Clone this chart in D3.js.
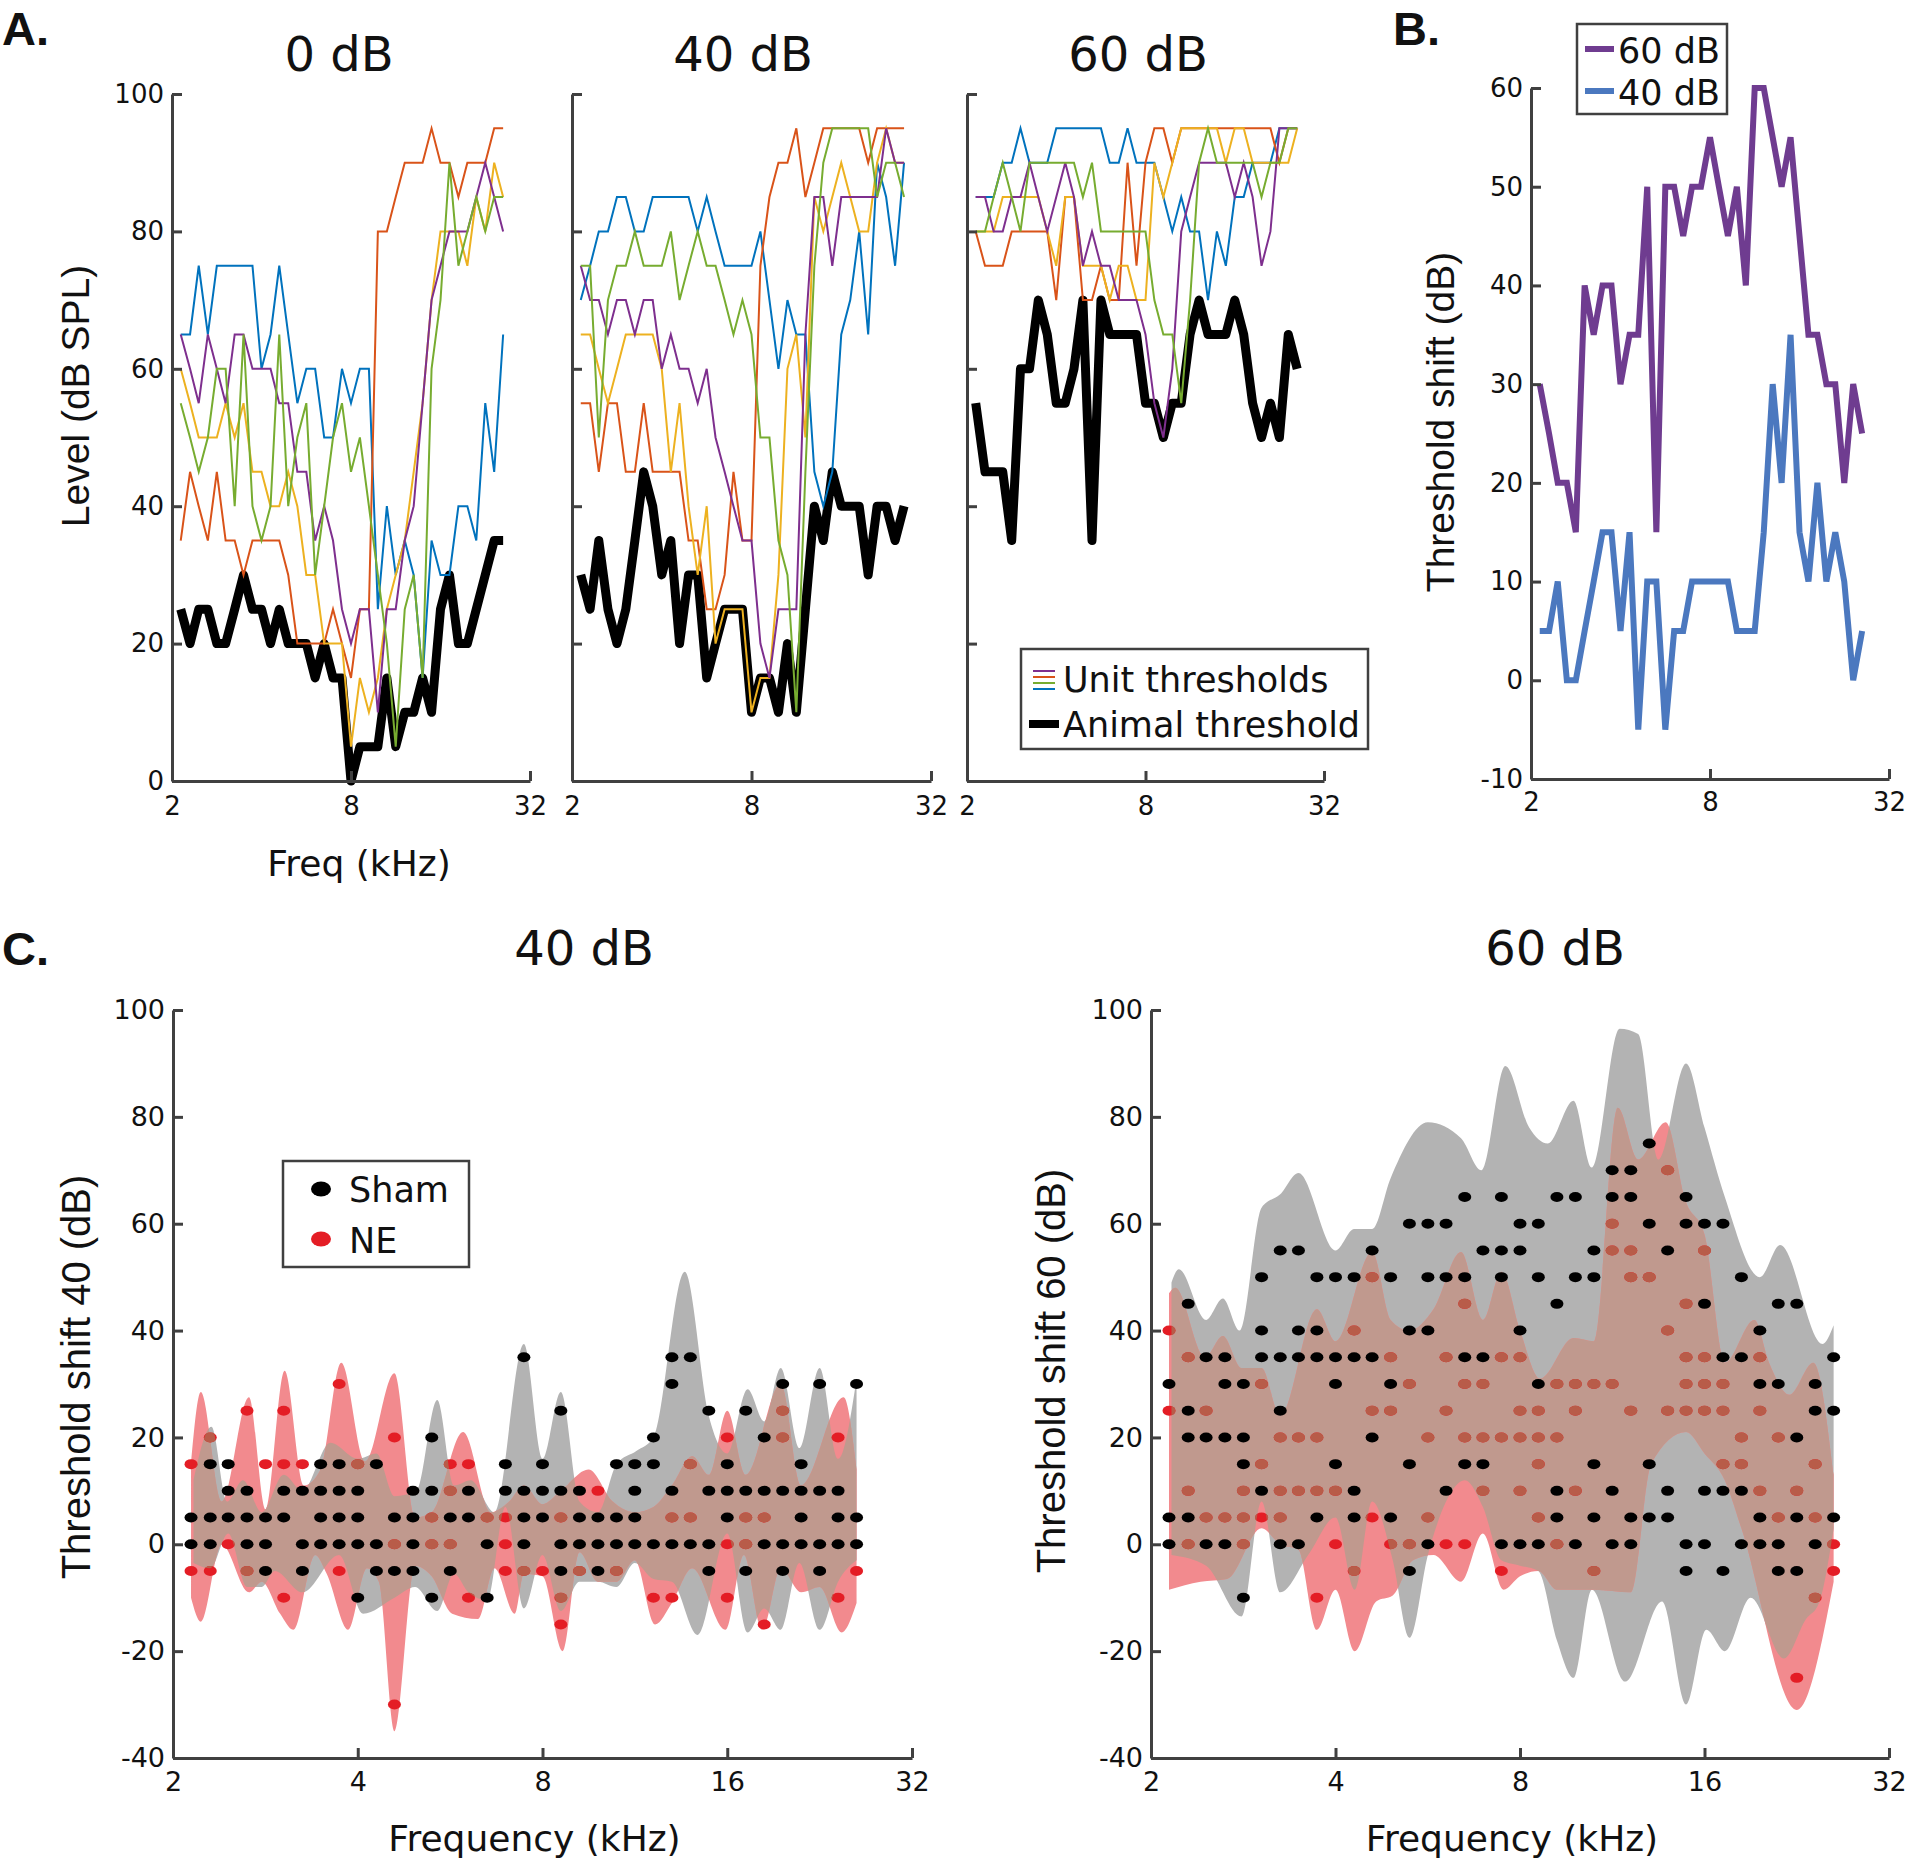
<!DOCTYPE html>
<html><head><meta charset="utf-8">
<script src="https://cdn.jsdelivr.net/npm/d3@7"></script>
<style>body{margin:0;background:#fff}</style>
</head><body>
<svg id="c" width="1920" height="1866" xmlns="http://www.w3.org/2000/svg"></svg>
<script>
// ---------- DATA ----------
const freqs = [2.14,2.30,2.46,2.64,2.83,3.03,3.25,3.48,3.73,4.00,4.29,4.59,4.92,5.28,5.66,6.06,6.50,6.96,7.46,8.00,8.57,9.19,9.85,10.56,11.31,12.13,13.00,13.93,14.93,16.00,17.15,18.38,19.70,21.11,22.63,24.25,25.99];
const xTicksA = [2, 8, 32];
const xTicksC = [2, 4, 8, 16, 32];
const yTicksA = [0, 20, 40, 60, 80, 100];
const yTicksB = [-10, 0, 10, 20, 30, 40, 50, 60];
const yTicksC = [-40, -20, 0, 20, 40, 60, 80, 100];

// Panel A: 0 dB
const a0Animal = [25,20,25,25,20,20,25,30,25,25,20,25,20,20,20,15,20,15,15,0,5,5,5,15,5,10,10,15,10,25,30,20,20,25,30,35,35];
const a0Blue   = [65,65,75,65,75,75,75,75,75,60,65,75,65,55,60,60,50,50,60,55,60,60,25,40,30,35,30,15,35,30,30,40,40,35,55,45,65];
const a0Orange = [35,45,40,35,45,35,35,30,35,35,35,35,30,20,20,20,20,25,20,15,25,25,80,80,85,90,90,90,95,90,90,85,90,90,90,95,95];
const a0Yellow = [60,55,50,50,50,55,50,55,45,45,40,40,45,40,30,30,20,20,20,5,15,10,15,25,30,35,45,55,70,80,80,80,75,85,80,90,85];
const a0Purple = [65,60,55,65,60,55,65,65,60,60,60,55,55,45,45,35,40,35,25,20,25,25,10,25,25,35,40,55,70,75,80,80,80,85,90,85,80];
const a0Green  = [55,50,45,50,60,60,40,65,40,35,40,65,40,50,55,30,40,50,55,45,50,40,30,20,5,25,30,15,60,70,90,75,80,85,80,85,85];
// Panel A: 40 dB
const a40Animal = [30,25,35,25,20,25,35,45,40,30,35,20,30,30,15,20,25,25,25,10,15,15,10,20,10,25,40,35,45,40,40,40,30,40,40,35,40];
const a40Blue   = [70,75,80,80,85,85,80,80,85,85,85,85,85,80,85,80,75,75,75,75,80,70,60,70,65,65,45,40,45,65,70,80,65,90,85,75,90];
const a40Orange = [55,55,45,55,55,45,45,55,45,45,45,45,35,35,25,25,30,45,35,35,75,85,90,90,95,85,90,95,95,95,95,95,90,95,95,95,95];
const a40Yellow = [65,65,60,55,60,65,65,65,65,60,45,55,40,30,40,20,25,25,25,10,15,15,30,60,65,50,85,80,85,90,85,80,80,90,95,90,90];
const a40Purple = [75,70,70,65,70,70,65,70,70,60,65,60,60,55,60,50,45,40,35,35,20,15,25,25,25,65,85,85,75,85,85,85,85,85,95,90,90];
const a40Green  = [75,75,50,70,75,75,80,75,75,75,80,70,75,80,75,75,70,65,70,65,50,50,35,30,10,45,75,90,95,95,95,95,95,85,90,90,85];
// Panel A: 60 dB
const a60Animal = [55,45,45,45,35,60,60,70,65,55,55,60,70,35,70,65,65,65,65,55,55,50,55,55,65,70,65,65,65,70,65,55,50,55,50,65,60];
const a60Blue   = [85,85,85,90,90,95,90,90,90,95,95,95,95,95,95,90,90,95,90,90,90,85,80,85,80,80,70,80,75,85,85,90,90,90,95,95,95];
const a60Orange = [80,75,75,75,80,80,80,80,80,70,85,85,70,70,75,70,70,90,75,90,95,95,90,95,95,95,95,95,95,95,95,95,95,95,90,95,95];
const a60Yellow = [80,80,80,85,85,85,85,85,80,75,85,85,75,75,75,70,75,75,70,70,90,85,90,95,95,95,95,95,90,95,95,90,90,90,90,90,95];
const a60Purple = [85,85,80,80,85,85,90,85,80,85,90,85,75,80,75,75,70,70,70,65,55,50,60,80,85,90,90,90,90,85,90,85,75,80,95,95,95];
const a60Green  = [80,80,85,90,85,80,90,90,90,90,90,90,85,90,80,80,80,80,80,80,70,65,65,55,70,90,95,90,90,90,90,90,85,90,90,95,95];

// Panel B: threshold shift
const shift60 = [30,25,20,20,15,40,35,40,40,30,35,35,50,15,50,50,45,50,50,55,50,45,50,40,60,60,55,50,55,45,35,35,30,30,20,30,25];
const shift40 = [5,5,10,0,0,5,10,15,15,5,15,-5,10,10,-5,5,5,10,10,10,10,10,5,5,5,15,30,20,35,15,10,20,10,15,10,0,5];

// Panel C: dots per frequency column (dB)
const sham40 = [[5,0],[15,5,0],[15,10,5],[10,5,0],[5,0,-5],[10,5],[10,0,-5],[15,10,5,0],[15,10,5,0],[10,5,0,-10],[15,0,-5],[5,-5],[10,5,0,-5],[20,10,-10],[5,-5],[10,5],[0,-10],[15,10],[35,10,5,0],[15,10,5],[25,10,0,-5],[10,5,0],[5,0,-5],[15,5,0],[15,10,5,0],[20,15,0],[35,30,10,0],[35,0],[25,10,0,-5],[15,10,5],[25,10,-5],[20,10,0],[30,10,0,-5],[15,10,5,0],[30,10,0,-5],[10,5,0],[30,5,0]];
const ne40 = [[15,-5],[20,-5],[0],[25,-5],[15],[25,15,-10],[15],[],[30,-5],[15],[],[20,0,-30],[],[5,0],[15,10,0],[15,-10],[5],[5,0,-5],[-5],[-5],[5,-10,-15],[-5],[10],[-5],[],[-10],[5,-10],[15,5],[],[20,0,-10],[5,0],[5,-15],[25,20],[],[],[20,-10],[-5]];
const sham60 = [[30,5,0],[45,25,20,5],[35,20,0],[35,30,20,0],[30,20,15,-10],[50,40,35,10],[55,35,25,0],[55,40,35,0],[50,40,35,5],[50,35,30,15],[50,35,10,5],[55,35,20],[50,30,5],[60,40,15,-5],[60,50,40,0],[60,50,10],[65,50,35,15],[55,35,15],[65,55,50,0],[60,55,40,0],[60,50,30,0],[65,45,10,5],[65,50,0],[55,50,15,5],[70,65,10,0],[70,65,5,0],[75,60,15,5],[55,10,5],[65,60,0,-5],[60,45,10,0],[60,35,10,-5],[50,35,10,0],[40,30,5,0],[45,30,0,-5],[45,20,5,-5],[30,25,0],[35,25,5]];
const ne60 = [[40,25],[35,10,0],[25,5],[5],[10,5,0],[30,15,5],[20,10,5],[20,10],[20,10,-10],[10,0],[40,-5],[50,25,5],[35,25,0],[30,0],[20,5],[35,25,0],[45,30,20,0],[30,20,10],[35,20,-5],[35,25,20,10],[25,20,15,5],[30,20,0],[30,25,10],[30,-5],[60,55,30],[55,50,25],[50],[70,40,25],[45,35,30,25],[55,35,30,25],[30,25,15],[20,15],[35,25,10],[20,5],[10,-25],[15,5,-10],[0,-5]];

// Panel C: spread envelopes, [kHz, dB] at turning points
const sham40Upper = [[2.16,12],[2.31,22],[2.45,8],[2.60,12],[2.79,6],[3.03,13],[3.25,10],[3.61,19],[4.00,16],[4.29,17],[4.59,9],[4.99,10],[5.39,27],[5.74,11],[6.11,12],[6.68,6],[7.46,37.5],[8.00,16],[8.57,28.5],[9.19,8],[9.85,6],[10.56,15],[11.39,17.5],[12.13,20],[13.64,51],[14.93,24],[16.00,17],[17.27,29],[18.38,23],[19.56,33],[20.97,18],[22.63,33],[24.25,16],[25.99,31]];
const sham40Lower = [[2.16,-3.5],[2.30,-4.5],[2.46,2],[2.64,-8],[2.79,-8],[2.93,-5],[3.25,-9],[3.73,-2],[4.08,-13],[4.59,-10],[4.96,-8],[5.39,-12.5],[5.74,-5.5],[6.06,-9],[6.50,-10.5],[6.96,7],[7.46,-12],[8.00,-2],[8.57,-12.5],[9.19,-7],[9.85,-7],[10.56,-8],[11.31,-3.5],[12.13,-6.5],[13.00,-7],[14.32,-17],[16.00,2],[17.27,-16.5],[18.38,-12],[19.56,-16],[20.97,-3.5],[22.63,-16],[24.25,-7],[25.99,-3]];
const ne40Upper = [[2.14,15],[2.22,28.5],[2.40,8],[2.66,27.5],[2.83,6.5],[3.04,32.5],[3.27,11],[3.48,14],[3.76,34],[4.11,15.5],[4.59,32],[4.96,5],[5.28,6],[5.94,21],[6.59,6],[7.06,8],[7.46,11],[8.00,7.5],[8.57,10],[9.51,14],[10.41,8],[11.31,6],[12.13,7],[13.00,11],[14.03,16.5],[14.93,13],[16.00,25],[17.15,13],[19.56,30],[21.11,11],[24.76,27.5],[25.99,14]];
const ne40Lower = [[2.14,-10],[2.22,-14.5],[2.40,0],[2.66,-9],[2.79,-7],[2.99,-13],[3.14,-16],[3.41,-2],[3.56,-5.5],[3.86,-16],[4.14,-4.5],[4.33,-7],[4.59,-35],[4.96,-4],[5.28,-6],[5.70,-13],[6.28,-14],[6.68,-4.5],[7.21,-13],[7.46,-5.5],[8.00,-6],[8.63,-20],[9.19,-1.5],[9.85,-7],[10.56,-7],[11.31,-3],[12.21,-15],[13.00,-11],[14.03,-4.5],[15.89,-16],[17.03,-2],[18.25,-16],[19.56,-4.5],[21.11,-9],[22.63,-8],[24.59,-16.5],[25.99,-11]];
const sham60Upper = [[2.16,49],[2.22,51.5],[2.46,42],[2.62,46],[2.79,40],[3.03,63],[3.25,65.5],[3.48,69.5],[4.00,55],[4.29,59],[4.59,59],[4.92,68.5],[5.66,79],[6.41,76],[6.92,70],[7.57,89.5],[8.28,78],[8.88,75],[9.78,83],[10.48,70.5],[11.63,96.5],[12.47,95.5],[13.45,72],[14.93,90],[16.00,78],[17.27,65],[19.70,50],[21.26,56],[24.93,37.5],[25.99,41]];
const sham60Lower = [[2.16,-2],[2.46,-4],[2.81,-13.5],[3.03,8],[3.25,-9],[3.61,-2],[4.00,5],[4.30,-8.5],[4.59,8],[4.96,-3],[5.28,-17.5],[5.66,-2],[6.06,8],[6.50,12],[6.96,7],[7.46,-3],[8.00,-4],[8.57,-5],[9.19,-18],[9.78,-25],[10.48,-8.5],[11.88,-25.7],[13.64,-10.7],[14.93,-30],[16.11,-16],[17.27,-20],[19.03,-10],[21.56,-21.4],[23.43,-14],[24.60,-11],[25.99,3]];
const ne60Upper = [[2.14,47],[2.19,48],[2.45,35],[2.62,39],[2.81,33],[3.03,33],[3.25,24],[3.73,44],[4.00,38],[4.59,54.7],[4.92,42],[5.28,40],[5.78,44],[6.41,54.7],[6.96,42],[7.46,51],[8.00,40],[8.63,31],[9.78,38.6],[10.56,38],[11.55,81.7],[12.47,72],[13.83,79],[14.93,64],[16.00,58],[17.27,34],[19.29,42],[20.39,34],[22.01,28],[24.08,34],[25.99,13]];
const ne60Lower = [[2.14,-8.5],[2.41,-7],[2.66,-6.5],[3.03,3],[3.25,0],[3.48,-1],[3.73,-16],[4.00,-8.5],[4.30,-20],[4.66,-10.7],[4.96,-9.6],[5.35,-3],[5.78,-2],[6.41,-7],[6.96,2],[7.52,-8.5],[8.00,-6],[8.57,-5],[9.19,-8.5],[10.56,-8.5],[12.13,-9],[13.09,15],[14.93,21],[16.00,17],[17.27,12],[18.38,3],[22.63,-31],[25.99,-7]];

// ---------- STYLE ----------
const AX = '#404040';
const FT = "'DejaVu Sans', sans-serif";
const FY = "'Liberation Sans', Arial, sans-serif";
const unitColors = {blue:'#0072BD', orange:'#D95319', yellow:'#EDB120', purple:'#7E2F8E', green:'#77AC30'};
const fmt = d => String(d);

const svg = d3.select('#c');
svg.append('rect').attr('width',1920).attr('height',1866).attr('fill','#fff');

function drawAxes(g, x, y, o) {
  const ya = d3.axisLeft(y).tickValues(o.yTicks).tickSizeInner(-10).tickSizeOuter(0).tickPadding(8)
     .tickFormat(o.yLabels === false ? '' : fmt);
  const xa = d3.axisBottom(x).tickValues(o.xTicks).tickSizeInner(-10).tickSizeOuter(0).tickPadding(o.xPad || 14)
     .tickFormat(fmt);
  const gy = g.append('g').attr('transform', `translate(${x.range()[0]},0)`).call(ya);
  const gx = g.append('g').attr('transform', `translate(0,${y.range()[0]})`).call(xa);
  [gx, gy].forEach(a => {
    a.selectAll('path.domain').attr('stroke', AX).attr('stroke-width', 3);
    a.selectAll('.tick line').attr('stroke', AX).attr('stroke-width', 3);
    a.selectAll('.tick text').attr('font-family', FT).attr('font-size', o.fs || 26).attr('fill', '#111');
  });
}
function txt(x, y, s, size, opts = {}) {
  const t = svg.append('text').attr('x', x).attr('y', y).text(s)
    .attr('font-family', opts.font || FT).attr('font-size', size)
    .attr('text-anchor', opts.anchor || 'middle').attr('fill', '#111');
  if (opts.bold) t.attr('font-weight', 'bold');
  if (opts.rotate) t.attr('transform', `rotate(-90,${x},${y})`).attr('dy', '0.35em');
  return t;
}

// ---------- PANEL A ----------
const yA = d3.scaleLinear().domain([0, 100]).range([781, 94]);
const panelsA = [
  {x0:172, x1:530, title:'0 dB', tx:339, animal:a0Animal, units:[a0Blue,a0Orange,a0Yellow,a0Purple,a0Green], labels:true},
  {x0:572, x1:931, title:'40 dB', tx:743, animal:a40Animal, units:[a40Blue,a40Orange,a40Yellow,a40Purple,a40Green], labels:false},
  {x0:967, x1:1324, title:'60 dB', tx:1138, animal:a60Animal, units:[a60Blue,a60Orange,a60Yellow,a60Purple,a60Green], labels:false}
];
const uCols = [unitColors.blue, unitColors.orange, unitColors.yellow, unitColors.purple, unitColors.green];
panelsA.forEach(p => {
  const x = d3.scaleLog().base(2).domain([2, 32]).range([p.x0, p.x1]);
  const g = svg.append('g');
  const line = d3.line().x((d, i) => x(freqs[i])).y(d => yA(d));
  g.append('path').attr('d', line(p.animal)).attr('fill', 'none').attr('stroke', '#000')
    .attr('stroke-width', 9).attr('stroke-linejoin', 'round').attr('stroke-linecap', 'butt');
  p.units.forEach((u, j) => {
    g.append('path').attr('d', line(u)).attr('fill', 'none').attr('stroke', uCols[j])
      .attr('stroke-width', 2).attr('stroke-linejoin', 'miter');
  });
  drawAxes(g, x, yA, {xTicks: xTicksA, yTicks: yTicksA, yLabels: p.labels, xPad: 16});
  txt(p.tx, 71, p.title, 48);
});
txt(75, 396, 'Level (dB SPL)', 39, {font: FY, rotate: true});
txt(359, 876, 'Freq (kHz)', 36);

// legend A
const lgA = svg.append('g');
lgA.append('rect').attr('x', 1021).attr('y', 649).attr('width', 347).attr('height', 100)
  .attr('fill', '#fff').attr('stroke', AX).attr('stroke-width', 2.5);
[unitColors.purple, unitColors.orange, unitColors.green, unitColors.blue].forEach((c, i) => {
  lgA.append('line').attr('x1', 1033).attr('x2', 1055).attr('y1', 671 + i * 6).attr('y2', 671 + i * 6)
    .attr('stroke', c).attr('stroke-width', 2);
});
lgA.append('line').attr('x1', 1029).attr('x2', 1059).attr('y1', 724).attr('y2', 724).attr('stroke', '#000').attr('stroke-width', 8);
txt(1063, 692, 'Unit thresholds', 35, {anchor: 'start'});
txt(1063, 737, 'Animal threshold', 35, {anchor: 'start'});

// ---------- PANEL B ----------
{
  const x = d3.scaleLog().base(2).domain([2, 32]).range([1531, 1889]);
  const y = d3.scaleLinear().domain([-10, 60]).range([779, 88]);
  const g = svg.append('g');
  const line = d3.line().x((d, i) => x(freqs[i])).y(d => y(d));
  g.append('path').attr('d', line(shift60)).attr('fill', 'none').attr('stroke', '#6F3C90').attr('stroke-width', 6).attr('stroke-linejoin', 'miter').attr('stroke-miterlimit', 3);
  g.append('path').attr('d', line(shift40)).attr('fill', 'none').attr('stroke', '#4B78BF').attr('stroke-width', 6).attr('stroke-linejoin', 'miter').attr('stroke-miterlimit', 3);
  drawAxes(g, x, y, {xTicks: xTicksA, yTicks: yTicksB, xPad: 14});
  txt(1440, 422, 'Threshold shift (dB)', 39, {font: FY, rotate: true});
  const lg = svg.append('g');
  lg.append('rect').attr('x', 1577).attr('y', 24).attr('width', 150).attr('height', 90)
    .attr('fill', '#fff').attr('stroke', AX).attr('stroke-width', 2.5);
  lg.append('line').attr('x1', 1585).attr('x2', 1614).attr('y1', 49).attr('y2', 49).attr('stroke', '#6F3C90').attr('stroke-width', 6);
  lg.append('line').attr('x1', 1585).attr('x2', 1614).attr('y1', 91).attr('y2', 91).attr('stroke', '#4B78BF').attr('stroke-width', 6);
  txt(1618, 63, '60 dB', 35, {anchor: 'start'});
  txt(1618, 105, '40 dB', 35, {anchor: 'start'});
}

// ---------- PANEL C ----------
function bandPath(x, y, upper, lower) {
  const l = d3.line().x(d => x(d[0])).y(d => y(d[1])).curve(d3.curveMonotoneX);
  const up = l(upper);
  const lo = l(lower.slice().reverse());
  return up + 'L' + lo.slice(1) + 'Z';
}
function panelC(cfg) {
  const x = d3.scaleLog().base(2).domain([2, 32]).range([cfg.x0, cfg.x1]);
  const y = d3.scaleLinear().domain([-40, 100]).range([1758, 1010]);
  const g = svg.append('g');
  const grayD = bandPath(x, y, cfg.shamU, cfg.shamL);
  const redD = bandPath(x, y, cfg.neU, cfg.neL);
  const cid = 'clip' + cfg.id;
  svg.append('defs').append('clipPath').attr('id', cid).append('path').attr('d', grayD);
  g.append('path').attr('d', grayD).attr('fill', '#B3B3B3');
  g.append('path').attr('d', redD).attr('fill', '#F28A8E');
  g.append('path').attr('d', redD).attr('fill', '#C0998E').attr('clip-path', `url(#${cid})`);
  const flat = arr => arr.flatMap((col, i) => col.map(v => ({f: freqs[i], v})));
  const redPts = flat(cfg.ne), blackPts = flat(cfg.sham);
  g.append('g').selectAll('ellipse').data(redPts).join('ellipse')
    .attr('cx', d => x(d.f)).attr('cy', d => y(d.v)).attr('rx', 6.5).attr('ry', 5).attr('fill', '#E41D25');
  g.append('g').attr('clip-path', `url(#${cid})`).selectAll('ellipse').data(redPts).join('ellipse')
    .attr('cx', d => x(d.f)).attr('cy', d => y(d.v)).attr('rx', 6.5).attr('ry', 5).attr('fill', '#B85C49');
  g.append('g').selectAll('ellipse').data(blackPts).join('ellipse')
    .attr('cx', d => x(d.f)).attr('cy', d => y(d.v)).attr('rx', 6.5).attr('ry', 5).attr('fill', '#000');
  drawAxes(g, x, y, {xTicks: xTicksC, yTicks: yTicksC, fs: 27, xPad: 14});
  txt(cfg.tx, 965, cfg.title, 48);
  txt(cfg.ylx, cfg.yly, cfg.ylab, 40, {font: FY, rotate: true});
  txt((cfg.x0 + cfg.x1) / 2 - 8, 1851, 'Frequency (kHz)', 36);
}
panelC({id: 40, x0: 173, x1: 912, title: '40 dB', tx: 584, ylab: 'Threshold shift 40 (dB)', ylx: 76, yly: 1377,
  sham: sham40, ne: ne40, shamU: sham40Upper, shamL: sham40Lower, neU: ne40Upper, neL: ne40Lower});
panelC({id: 60, x0: 1151, x1: 1889, title: '60 dB', tx: 1555, ylab: 'Threshold shift 60 (dB)', ylx: 1051, yly: 1371,
  sham: sham60, ne: ne60, shamU: sham60Upper, shamL: sham60Lower, neU: ne60Upper, neL: ne60Lower});

// legend C
{
  const lg = svg.append('g');
  lg.append('rect').attr('x', 283).attr('y', 1161).attr('width', 186).attr('height', 106)
    .attr('fill', '#fff').attr('stroke', AX).attr('stroke-width', 2.5);
  lg.append('ellipse').attr('cx', 321).attr('cy', 1189).attr('rx', 10).attr('ry', 7.5).attr('fill', '#000');
  lg.append('ellipse').attr('cx', 321).attr('cy', 1239).attr('rx', 10).attr('ry', 7.5).attr('fill', '#E41D25');
  txt(349, 1202, 'Sham', 35, {anchor: 'start'});
  txt(349, 1253, 'NE', 35, {anchor: 'start'});
}

// panel letters
txt(2, 45, 'A.', 47, {anchor: 'start', bold: true, font: FY});
txt(1393, 45, 'B.', 47, {anchor: 'start', bold: true, font: FY});
txt(2, 965, 'C.', 47, {anchor: 'start', bold: true, font: FY});
</script>
</body></html>
